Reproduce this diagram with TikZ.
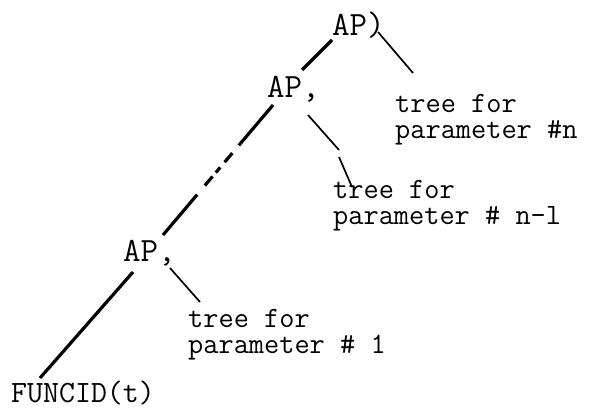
\documentclass[tikz,border=0pt]{standalone}
\usetikzlibrary{calc}
\tikzset{
  label/.style={inner sep=0pt, anchor=base west, align=left,
    font=\fontsize{29.5}{26}\selectfont\ttfamily},
  apnode/.style={inner sep=0pt, anchor=base west,
    font=\fontsize{34}{34}\selectfont\ttfamily},
  funnode/.style={inner sep=0pt, anchor=base west,
    font=\fontsize{31}{31}\selectfont\ttfamily},
  trunk/.style={line width=3.2pt},
  twig/.style={line width=1.7pt}
}

\begin{document}
\begin{tikzpicture}[x=1pt, y=-1pt]
  \useasboundingbox (0,0) rectangle (593,410);

  \node[apnode] (top) at (332,35) {AP)};
  \node[apnode] (mid) at (267,97) {AP,};
  \node[apnode] (low) at (123,261) {AP,};
  \node[label] (parn) at (395,138) {tree for\\parameter \#n};
  \node[label] (parm) at (333,224) {tree for\\parameter \# n-l};
  \node[label] (par1) at (188,353) {tree for\\parameter \# 1};
  \node[funnode] (fun) at (11,402) {FUNCID(t)};

  % left spine
  \draw[trunk] ([shift={(0,5)}]top.base west) -- ([shift={(35,-27)}]mid.base west);
  \draw[trunk, dash pattern=on 52.8pt off 10.2pt on 11.9pt off 6.8pt on 6.8pt off 5.1pt on 11.9pt off 11.9pt on 60pt]
    ([shift={(6,8)}]mid.base west) -- ([shift={(40,-26)}]low.base west);
  \draw[trunk] ([shift={(10,11)}]low.base west) -- ([shift={(29,-24)}]fun.base west);

  % parameter subtrees
  \draw[twig] ([shift={(46,-3)}]top.base west) -- ([shift={(18,-65)}]parn.base west);
  \coordinate (kink1) at (339,150);
  \coordinate (kink2) at (339,157);
  \draw[twig] ([shift={(41,18)}]mid.base west) -- (kink1);
  \draw[twig] (kink2) -- ([shift={(19,-37)}]parm.base west);
  \draw[twig] ([shift={(47,7)}]low.base west) -- ([shift={(12,-51)}]par1.base west);
\end{tikzpicture}
\end{document}
